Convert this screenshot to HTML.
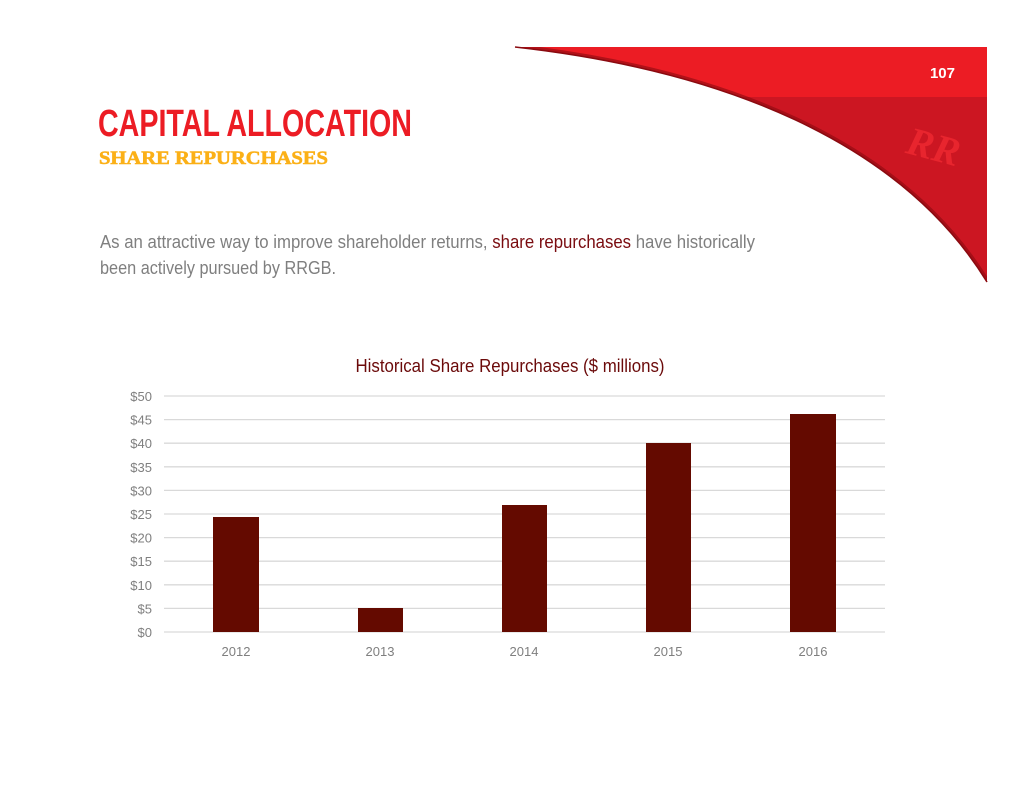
<!DOCTYPE html>
<html><head><meta charset="utf-8"><style>
html,body{margin:0;padding:0;background:#fff;}
body{width:1034px;height:799px;overflow:hidden;position:relative;font-family:"Liberation Sans Narrow","Liberation Sans",sans-serif;}
</style></head><body>
<svg width="1034" height="799" viewBox="0 0 1034 799" xmlns="http://www.w3.org/2000/svg" style="position:absolute;left:0;top:0">
<defs>
<clipPath id="cp"><path d="M515,47 L987,47 L987,282 C900,140 720,70 515,47 Z"/></clipPath>
</defs>
<path d="M515,47 L987,47 L987,282 C900,140 720,70 515,47 Z" fill="#cc1622"/>
<g clip-path="url(#cp)">
<rect x="500" y="47" width="490" height="50" fill="#ec1c24"/>
<path d="M515,47 C720,70 900,140 987,282" fill="none" stroke="#8a0a10" stroke-width="6" opacity="0.6"/>
</g>
<path d="M515,47 C720,70 900,140 987,282" fill="none" stroke="#8a0a10" stroke-width="1.5"/>
<text x="955" y="78" font-family="Liberation Sans,sans-serif" font-weight="bold" font-size="15" fill="#fff" text-anchor="end">107</text>
<text x="934" y="160" font-family="Liberation Serif,serif" font-style="italic" font-weight="bold" font-size="40" fill="#e8252e" text-anchor="middle" transform="rotate(15 934 145)">RR</text>

<text x="98" y="136" font-weight="bold" font-size="38" fill="#ec1c24" textLength="314" lengthAdjust="spacingAndGlyphs">CAPITAL ALLOCATION</text>
<text x="99" y="164" font-family="Liberation Serif,serif" font-weight="bold" font-size="19" fill="#fbb017" stroke="#fbb017" stroke-width="0.6" textLength="229" lengthAdjust="spacingAndGlyphs">SHARE REPURCHASES</text>
<text x="100" y="248" font-size="18" fill="#7f7f7f" textLength="655" lengthAdjust="spacingAndGlyphs">As an attractive way to improve shareholder returns, <tspan fill="#7a0c10">share repurchases</tspan> have historically</text>
<text x="100" y="274" font-size="18" fill="#7f7f7f" textLength="236" lengthAdjust="spacingAndGlyphs">been actively pursued by RRGB.</text>

<text x="510" y="372" font-size="18" fill="#6b0a0a" text-anchor="middle" textLength="309" lengthAdjust="spacingAndGlyphs">Historical Share Repurchases ($ millions)</text>
<g stroke="#d9d9d9" stroke-width="1.3">
<line x1="164" x2="885" y1="396" y2="396"/><line x1="164" x2="885" y1="419.6" y2="419.6"/>
<line x1="164" x2="885" y1="443.2" y2="443.2"/><line x1="164" x2="885" y1="466.8" y2="466.8"/>
<line x1="164" x2="885" y1="490.4" y2="490.4"/><line x1="164" x2="885" y1="514" y2="514"/>
<line x1="164" x2="885" y1="537.6" y2="537.6"/><line x1="164" x2="885" y1="561.2" y2="561.2"/>
<line x1="164" x2="885" y1="584.8" y2="584.8"/><line x1="164" x2="885" y1="608.4" y2="608.4"/>
<line x1="164" x2="885" y1="632" y2="632"/>
</g>
<g font-size="13" fill="#7f7f7f" text-anchor="end">
<text x="152" y="401">$50</text><text x="152" y="424.6">$45</text><text x="152" y="448.2">$40</text>
<text x="152" y="471.8">$35</text><text x="152" y="495.4">$30</text><text x="152" y="519">$25</text>
<text x="152" y="542.6">$20</text><text x="152" y="566.2">$15</text><text x="152" y="589.8">$10</text>
<text x="152" y="613.4">$5</text><text x="152" y="637">$0</text>
</g>
<g fill="#640a00">
<rect x="213" y="517" width="46" height="115"/>
<rect x="358" y="608" width="45" height="24"/>
<rect x="502" y="505" width="45" height="127"/>
<rect x="646" y="443" width="45" height="189"/>
<rect x="790" y="414" width="46" height="218"/>
</g>
<g font-size="13" fill="#7f7f7f" text-anchor="middle">
<text x="236" y="656">2012</text><text x="380" y="656">2013</text><text x="524" y="656">2014</text>
<text x="668" y="656">2015</text><text x="813" y="656">2016</text>
</g>
</svg>
</body></html>
